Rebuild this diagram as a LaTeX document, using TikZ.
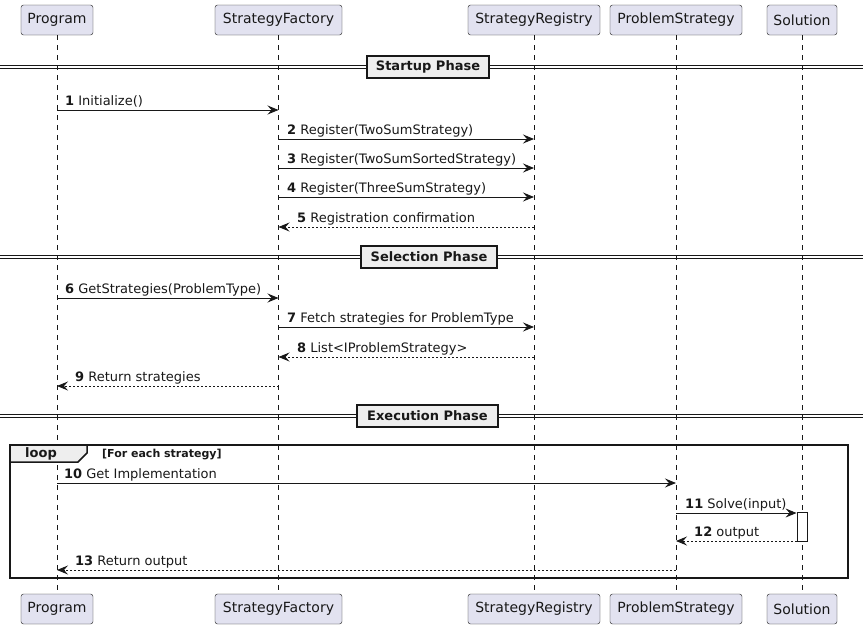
\documentclass[tikz,border=0pt]{standalone}
\usepackage{fontspec}
\setmainfont{DejaVu Sans}
\usetikzlibrary{arrows.meta}
\definecolor{partfill}{HTML}{E2E2F0}
\definecolor{ink}{HTML}{181818}
\definecolor{grayfill}{HTML}{EEEEEE}
\tikzset{
  part/.style={draw=ink, fill=partfill, rounded corners=2.5pt, minimum height=30pt, inner sep=0pt, font=\fontsize{14}{16}\selectfont, text=ink},
  lifeline/.style={draw=ink, line width=0.5pt, dash pattern=on 5pt off 5pt},
  msg/.style={draw=ink, line width=0.9pt, -{Stealth[length=11pt,width=9pt,inset=4pt]}},
  ret/.style={msg, dash pattern=on 2pt off 2pt},
  lbl/.style={anchor=base west, inner sep=0pt, font=\fontsize{13}{15}\selectfont, text=ink},
  divbox/.style={draw=ink, fill=grayfill, line width=1.5pt, minimum height=22pt, inner sep=0pt, font=\bfseries\fontsize{13}{15}\selectfont, text=ink},
  divline/.style={draw=ink, line width=1pt},
  frame/.style={draw=ink, line width=1.5pt},
}
\begin{document}
\begin{tikzpicture}[x=1pt,y=-1pt]
\useasboundingbox (0,0) rectangle (863,629);
% participants top
\node[part, minimum width=72pt] (pT) at (57,20) {Program};
\node[part, minimum width=127pt] (fT) at (278.5,20) {StrategyFactory};
\node[part, minimum width=132pt] (rT) at (534,20) {StrategyRegistry};
\node[part, minimum width=132pt] (sT) at (676,20) {ProblemStrategy};
\node[part, minimum width=70pt] (oT) at (802,20) {Solution};
% participants bottom
\node[part, minimum width=72pt] (pB) at (57,609) {Program};
\node[part, minimum width=127pt] (fB) at (278.5,609) {StrategyFactory};
\node[part, minimum width=132pt] (rB) at (534,609) {StrategyRegistry};
\node[part, minimum width=132pt] (sB) at (676,609) {ProblemStrategy};
\node[part, minimum width=70pt] (oB) at (802,609) {Solution};
% lifelines
\draw[lifeline] (pT.south) -- (pB.north);
\draw[lifeline] (fT.south) -- (fB.north);
\draw[lifeline] (rT.south) -- (rB.north);
\draw[lifeline] (sT.south) -- (sB.north);
\draw[lifeline] (oT.south) -- (oB.north);

% dividers
\coordinate (d1l) at (0,67); \coordinate (d1r) at (863,67);
\draw[divline] ([yshift=-1.5pt]d1l) -- ([yshift=-1.5pt]d1r);
\draw[divline] ([yshift=1.5pt]d1l) -- ([yshift=1.5pt]d1r);
\node[divbox, minimum width=122pt] (div1) at (428,67) {Startup Phase};

\coordinate (d2l) at (0,257); \coordinate (d2r) at (863,257);
\draw[divline] ([yshift=-1.5pt]d2l) -- ([yshift=-1.5pt]d2r);
\draw[divline] ([yshift=1.5pt]d2l) -- ([yshift=1.5pt]d2r);
\node[divbox, minimum width=136pt] (div2) at (429,257) {Selection Phase};

\coordinate (d3l) at (0,416); \coordinate (d3r) at (863,416);
\draw[divline] ([yshift=-1.5pt]d3l) -- ([yshift=-1.5pt]d3r);
\draw[divline] ([yshift=1.5pt]d3l) -- ([yshift=1.5pt]d3r);
\node[divbox, minimum width=141pt] (div3) at (427.5,416) {Execution Phase};

% messages startup
\draw[msg] (pT |- 0,110) -- (fT |- 0,110);
\node[lbl] (l1) at (65,105) {\textbf{1} Initialize()};
\draw[msg] (fT |- 0,139) -- (rT |- 0,139);
\node[lbl] (l2) at (287,134) {\textbf{2} Register(TwoSumStrategy)};
\draw[msg] (fT |- 0,168) -- (rT |- 0,168);
\node[lbl] (l3) at (287,163) {\textbf{3} Register(TwoSumSortedStrategy)};
\draw[msg] (fT |- 0,197) -- (rT |- 0,197);
\node[lbl] (l4) at (287,192) {\textbf{4} Register(ThreeSumStrategy)};
\draw[ret] (rT |- 0,227) -- (fT |- 0,227);
\node[lbl] (l5) at (297,222) {\textbf{5} Registration confirmation};

% selection
\draw[msg] (pT |- 0,298) -- (fT |- 0,298);
\node[lbl] (l6) at (65,293) {\textbf{6} GetStrategies(ProblemType)};
\draw[msg] (fT |- 0,327) -- (rT |- 0,327);
\node[lbl] (l7) at (287,322) {\textbf{7} Fetch strategies for ProblemType};
\draw[ret] (rT |- 0,357) -- (fT |- 0,357);
\node[lbl] (l8) at (297,352) {\textbf{8} List<IProblemStrategy>};
\draw[ret] (fT |- 0,386) -- (pT |- 0,386);
\node[lbl] (l9) at (75,381) {\textbf{9} Return strategies};

% loop frame
\draw[frame] (10,445) rectangle (848,578);
\draw[frame, fill=grayfill] (10,445) -- (87,445) -- (87,453) -- (78,462) -- (10,462) -- cycle;
\node[font=\bfseries\fontsize{13}{15}\selectfont, text=ink, inner sep=0pt] (looplbl) at (41,453.5) {loop};
\node[anchor=base west, inner sep=0pt, font=\bfseries\fontsize{11}{13}\selectfont, text=ink] (guard) at (102,457) {[For each strategy]};

% activation
\node[draw=ink, fill=white, line width=0.9pt, minimum width=10pt, minimum height=29pt, inner sep=0pt] (act) at (802,526.5) {};

% execution messages
\draw[msg] (pT |- 0,483) -- (sT |- 0,483);
\node[lbl] (l10) at (64,478) {\textbf{10} Get Implementation};
\draw[msg] (sT |- 0,513) -- (act.west |- 0,513);
\node[lbl] (l11) at (685,508) {\textbf{11} Solve(input)};
\draw[ret] (act.west |- 0,541) -- (sT |- 0,541);
\node[lbl] (l12) at (694,536) {\textbf{12} output};
\draw[ret] (sT |- 0,570) -- (pT |- 0,570);
\node[lbl] (l13) at (75,565) {\textbf{13} Return output};
\end{tikzpicture}
\end{document}
